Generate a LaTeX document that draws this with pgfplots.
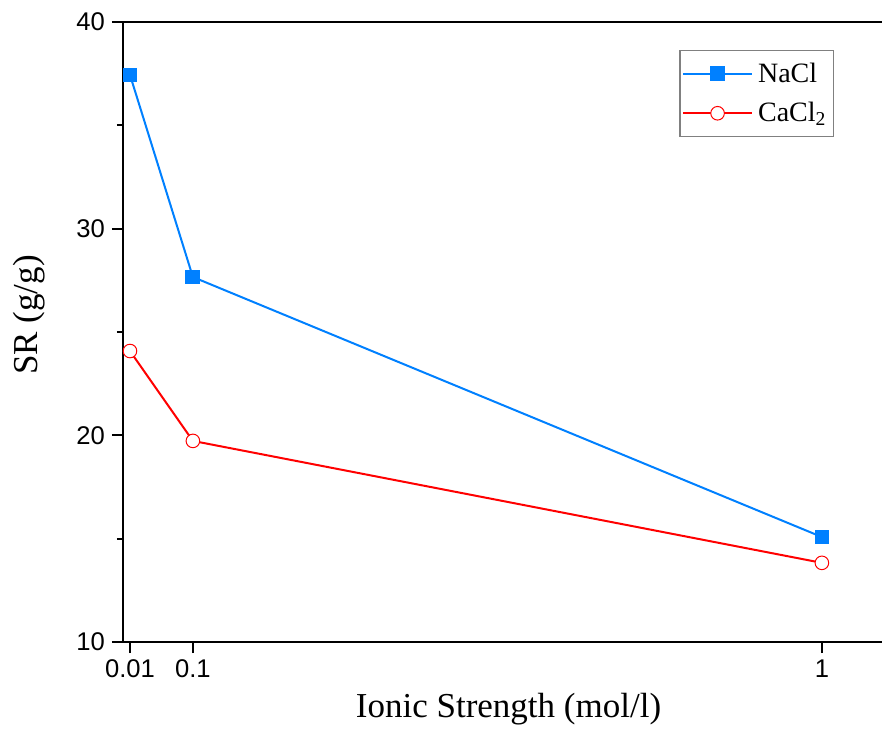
\documentclass[border=0pt]{standalone}
\usepackage{fontspec}
\setmainfont{Liberation Serif}
\newfontfamily\sansf{Liberation Sans}
\usepackage{pgfplots}
\pgfplotsset{compat=1.18}
\definecolor{nablue}{RGB}{0,128,255}
\definecolor{cared}{RGB}{255,0,0}
\begin{document}
\begin{tikzpicture}
\begin{axis}[
  scale only axis,
  width=379.5pt, height=310pt,
  xmin=0, xmax=1.086,
  ymin=10, ymax=40,
  axis x line=box,
  axis y line=left,
  axis line style={-, line width=1pt, black},
  tick align=outside,
  xtick pos=left, ytick pos=left,
  xtick={0.01,0.1,1},
  xticklabels={0.01,0.1,1},
  ytick={10,20,30,40},
  minor ytick={15,25,35},
  x tick style={line width=1pt, black},
  y tick style={line width=1pt, black},
  major tick length=5.5pt,
  minor tick length=3pt,
  /pgf/number format/assume math mode=true,
  ticklabel style={font=\sansf\fontsize{12.8}{14}\selectfont},
  xlabel={Ionic Strength (mol/l)},
  ylabel={SR (g/g)},
  label style={font=\fontsize{17.5}{20}\selectfont},
  xlabel style={at={([yshift=-37.5pt,xshift=3pt]axis description cs:0.5,0)}, anchor=base},
  ylabel style={at={([xshift=-47pt,yshift=8.5pt]axis description cs:0,0.5)}, anchor=center, rotate=0},
  legend style={at={(rel axis cs:0.9368,0.9548)}, anchor=north east,
    draw=gray, line width=0.6pt, font=\fontsize{14}{16}\selectfont,
    inner xsep=1pt, inner ysep=4pt, row sep=4.5pt,
    nodes={inner xsep=2.5pt}},
  legend cell align=left,
  legend image code/.code={\draw[mark repeat=2,mark phase=2,#1] plot coordinates {(0pt,0pt) (17.25pt,0pt) (34.5pt,0pt)};},
  clip=false,
]
\addplot[color=nablue, line width=1pt, mark=square*, mark size=3.2pt, mark options={solid, fill=nablue, draw=nablue}]
  coordinates {(0.01,37.44) (0.1,27.66) (1,15.08)};
\addlegendentry{NaCl}
\addplot[color=cared, line width=1pt, mark=*, mark size=3.4pt, mark options={solid, fill=white, draw=cared, line width=0.5pt}]
  coordinates {(0.01,24.08) (0.1,19.73) (1,13.83)};
\addlegendentry{CaCl\textsubscript{2}}
\end{axis}
\pgfresetboundingbox
\path[use as bounding box] ([xshift=-61.5pt,yshift=-43pt]current axis.south west) rectangle ([yshift=11pt]current axis.north east);
\end{tikzpicture}
\end{document}
